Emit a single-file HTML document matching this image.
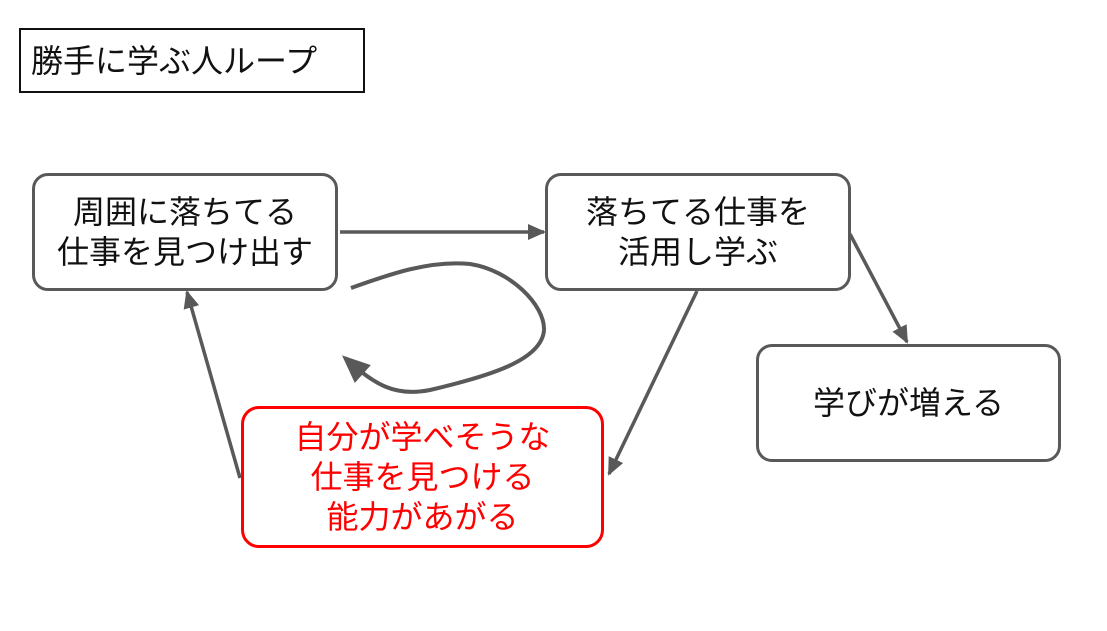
<!DOCTYPE html>
<html><head><meta charset="utf-8"><style>
body{margin:0;width:1107px;height:631px;background:#fff;overflow:hidden;font-family:"Liberation Sans","Noto Sans CJK JP",sans-serif}
.b{position:absolute;box-sizing:border-box;display:flex;align-items:center;justify-content:center;text-align:center;font-size:32px;line-height:40px;color:#111}
</style></head><body>
<div class="b" style="left:19px;top:28px;width:346px;height:65px;border:2px solid #111;justify-content:flex-start;padding-left:10px;font-size:32px">勝手に学ぶ人ループ</div>
<div class="b" style="left:32px;top:173px;width:306px;height:118px;border:3px solid #595959;border-radius:16px">周囲に落ちてる<br>仕事を見つけ出す</div>
<div class="b" style="left:545px;top:173px;width:306px;height:118px;border:3px solid #595959;border-radius:16px">落ちてる仕事を<br>活用し学ぶ</div>
<div class="b" style="left:756px;top:344px;width:305px;height:118px;border:3px solid #595959;border-radius:16px">学びが増える</div>
<div class="b" style="left:241px;top:406px;width:363px;height:142px;border:3px solid #ff0000;border-radius:18px;color:#ff0000">自分が学べそうな<br>仕事を見つける<br>能力があがる</div>
<svg width="1107" height="631" style="position:absolute;left:0;top:0" fill="none" stroke="#595959" stroke-width="3.5">
<defs>
<marker id="m" markerWidth="20" markerHeight="20" refX="16" refY="10" orient="auto" markerUnits="userSpaceOnUse"><path d="M0,2L18,10L0,18z" fill="#595959" stroke="none"/></marker>
<marker id="c" markerWidth="30" markerHeight="30" refX="24" refY="15" orient="auto" markerUnits="userSpaceOnUse"><path d="M0,3L28,15L0,27z" fill="#595959" stroke="none"/></marker></defs>
<line x1="340" y1="232" x2="544" y2="232" marker-end="url(#m)"/>
<line x1="697" y1="291" x2="609" y2="474" marker-end="url(#m)"/>
<line x1="850" y1="234" x2="907" y2="342" marker-end="url(#m)"/>
<line x1="240" y1="478" x2="187" y2="292" marker-end="url(#m)"/>
<path d="M351,288 C390,274 430,260 470,264 C510,270 545,305 544,330 C542,360 490,376 430,390 C395,397 375,385 345,358" stroke-width="4" marker-end="url(#c)"/>
</svg>
</body></html>
